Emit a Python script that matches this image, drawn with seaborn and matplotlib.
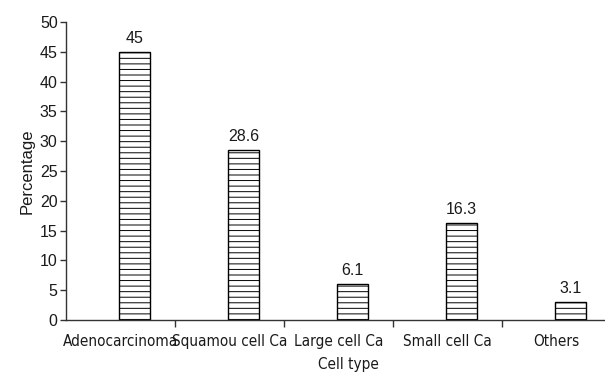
import numpy as np
import pandas as pd
import matplotlib
matplotlib.use("Agg")
import matplotlib.pyplot as plt
import seaborn as sns
from matplotlib.ticker import FixedLocator

cell_types = ["Adenocarcinoma", "Squamou cell Ca", "Large cell Ca", "Small cell Ca", "Others"]
percentages = [45, 28.6, 6.1, 16.3, 3.1]
value_labels = ["45", "28.6", "6.1", "16.3", "3.1"]
y_ticks = [0, 5, 10, 15, 20, 25, 30, 35, 40, 45, 50]

df = pd.DataFrame({"cell_type": cell_types, "pct": percentages})

sns.set_style("ticks")
plt.rcParams['font.family'] = ['Liberation Sans', 'DejaVu Sans']
plt.rcParams['hatch.linewidth'] = 0.7
plt.rcParams['hatch.color'] = 'black'
for k in ['text.color', 'axes.labelcolor', 'xtick.labelcolor', 'ytick.labelcolor']:
    plt.rcParams[k] = '#1a1a1a'

narrow = ['Liberation Sans Narrow', 'DejaVu Sans']

fig = plt.figure(figsize=(6.05, 3.73), dpi=100)
ax = fig.add_axes([66/605, 1-320/373, 1-66/605, (320-22)/373])

sns.barplot(data=df, x="cell_type", y="pct", color="white", edgecolor="black",
            linewidth=1, width=0.285, hatch="---", ax=ax)

ax.bar_label(ax.containers[0], labels=value_labels, padding=4, fontsize=11.5)

off = 0.13
ax.set_xlim(-0.5 - off, -0.5 - off + 539/109)
ax.set_ylim(0, 50)
ax.set_yticks(y_ticks)
ax.set_yticklabels([str(t) for t in y_ticks], fontsize=11.5)

# boundaries as major ticks, labels on minor ticks at category centres
ax.xaxis.set_major_locator(FixedLocator([i + 0.5 - off for i in range(4)]))
ax.set_xticklabels([])
ax.xaxis.set_minor_locator(FixedLocator([i - off for i in range(5)]))
ax.set_xticklabels(cell_types, minor=True, fontsize=11, family=narrow, stretch='condensed')
ax.tick_params(axis='x', which='minor', length=0, pad=10)
ax.tick_params(axis='x', which='major', length=5, width=1, color='#333333')
ax.tick_params(axis='y', length=4, width=1, color='#333333', pad=2)

ax.set_xlabel("Cell type", fontsize=11, family=narrow, stretch='condensed', labelpad=4)
ax.xaxis.set_label_coords((348 - 66) / 539, -0.125)
ax.set_ylabel("Percentage", fontsize=12, labelpad=4)

for s in ["top", "right"]:
    ax.spines[s].set_visible(False)
for s in ["left", "bottom"]:
    ax.spines[s].set_color('#333333')
    ax.spines[s].set_linewidth(1)

fig.savefig("out.png", dpi=100)
